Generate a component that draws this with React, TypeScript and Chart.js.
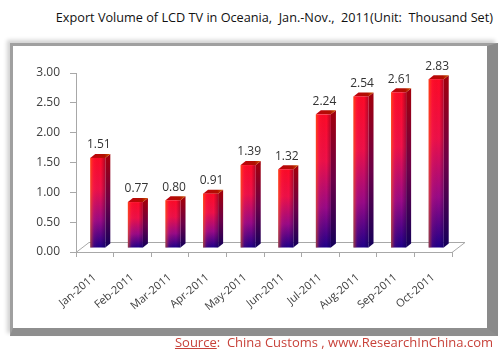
import React, { useEffect, useRef } from "react";
import { Chart, registerables } from "chart.js";
Chart.register(...registerables);

const categories = ["Jan-2011", "Feb-2011", "Mar-2011", "Apr-2011", "May-2011", "Jun-2011", "Jul-2011", "Aug-2011", "Sep-2011", "Oct-2011"];
const values = [1.51, 0.77, 0.8, 0.91, 1.39, 1.32, 2.24, 2.54, 2.61, 2.83];
const yMin = 0;
const yMax = 3;
const yStep = 0.5;
const titleText = "Export Volume of LCD TV in Oceania,  Jan.-Nov.,  2011(Unit:  Thousand Set)";
const sourceLabel = "Source";
const sourceRest = ":  China Customs , www.ResearchInChina.com";

const FONT = "'Open Sans', 'Noto Sans', sans-serif";
const OX = 3, OY = -4; // front face offset from bar slot
const EX = 5, EY = -4; // bar extrusion
const FX = 13, FY = -10; // floor depth

const bar3d = {
  id: "bar3d",
  beforeDatasetsDraw(chart: any) {
    const { ctx, chartArea } = chart;
    const { left, right, bottom } = chartArea;
    ctx.save();
    ctx.strokeStyle = "#a8a8a8";
    ctx.lineWidth = 1;
    ctx.beginPath();
    ctx.moveTo(left, bottom + 0.5);
    ctx.lineTo(left + FX, bottom + FY + 0.5);
    ctx.lineTo(right + FX, bottom + FY + 0.5);
    ctx.lineTo(right, bottom + 0.5);
    ctx.stroke();
    ctx.restore();
  },
  afterDatasetsDraw(chart: any) {
    const { ctx } = chart;
    const meta = chart.getDatasetMeta(0);
    ctx.save();
    meta.data.forEach((el: any, i: number) => {
      const p = el.getProps(["x", "y", "base", "width"], true);
      const L = p.x - p.width / 2 + OX;
      const R = p.x + p.width / 2 + OX;
      const T = p.y + OY;
      const B = p.base + OY;
      // side face
      const sg = ctx.createLinearGradient(0, T, 0, B);
      sg.addColorStop(0, "#a0000e");
      sg.addColorStop(0.5, "#6a0048");
      sg.addColorStop(1, "#14005a");
      ctx.fillStyle = sg;
      ctx.beginPath();
      ctx.moveTo(R, T);
      ctx.lineTo(R + EX, T + EY);
      ctx.lineTo(R + EX, B + EY);
      ctx.lineTo(R, B);
      ctx.closePath();
      ctx.fill();
      // top face
      const tg = ctx.createLinearGradient(L, T, R + EX, T + EY);
      tg.addColorStop(0, "#c00010");
      tg.addColorStop(0.7, "#b01000");
      tg.addColorStop(1, "#d06000");
      ctx.fillStyle = tg;
      ctx.beginPath();
      ctx.moveTo(L, T);
      ctx.lineTo(L + EX, T + EY);
      ctx.lineTo(R + EX, T + EY);
      ctx.lineTo(R, T);
      ctx.closePath();
      ctx.fill();
      // front face
      const fg = ctx.createLinearGradient(0, T, 0, B);
      fg.addColorStop(0, "#ff0a28");
      fg.addColorStop(0.35, "#f0104a");
      fg.addColorStop(0.7, "#9a0a88");
      fg.addColorStop(1, "#20008a");
      ctx.fillStyle = fg;
      ctx.fillRect(L, T, R - L, B - T);
      const hg = ctx.createLinearGradient(L, 0, R, 0);
      hg.addColorStop(0, "rgba(255,120,0,0.55)");
      hg.addColorStop(0.25, "rgba(255,60,60,0.1)");
      hg.addColorStop(0.7, "rgba(0,0,0,0)");
      hg.addColorStop(1, "rgba(0,0,40,0.3)");
      ctx.fillStyle = hg;
      ctx.fillRect(L, T, R - L, B - T);
      // label
      ctx.fillStyle = "#333333";
      ctx.font = `12px ${FONT}`;
      ctx.textAlign = "center";
      ctx.textBaseline = "bottom";
      ctx.fillText(values[i].toFixed(2), (L + R) / 2 + 1, T + EY - 3);
    });
    ctx.restore();
  },
};

export default function App() {
  const ref = useRef<HTMLCanvasElement>(null);
  useEffect(() => {
    if (!ref.current) return;
    const chart = new Chart(ref.current, {
      type: "bar",
      data: {
        labels: categories,
        datasets: [
          {
            data: values,
            backgroundColor: "rgba(0,0,0,0)",
            borderWidth: 0,
            barPercentage: 0.4,
            categoryPercentage: 1,
          },
        ],
      },
      options: {
        animation: false,
        responsive: false,
        layout: { padding: { left: 0, right: 48, top: 73, bottom: 0 } },
        plugins: { legend: { display: false }, tooltip: { enabled: false }, title: { display: false } },
        scales: {
          x: {
            offset: true,
            afterFit: (s: any) => { s.height = 104; },
            grid: { offset: true, drawOnChartArea: false, drawTicks: true, tickLength: 5, color: "#a8a8a8" },
            border: { display: true, color: "#a8a8a8" },
            ticks: { minRotation: 40, maxRotation: 40, color: "#404040", font: { family: FONT, size: 11 }, padding: 14 },
          },
          y: {
            min: yMin,
            max: yMax,
            afterFit: (s: any) => { s.width = 76; },
            grid: { drawOnChartArea: false, drawTicks: true, tickLength: 6, color: "#a8a8a8" },
            border: { display: true, color: "#a8a8a8" },
            ticks: { stepSize: yStep, color: "#404040", font: { family: FONT, size: 12 }, padding: 10, callback: (v: any) => Number(v).toFixed(2) },
          },
        },
      },
      plugins: [bar3d],
    });
    return () => chart.destroy();
  }, []);

  return (
    <div style={{ position: "fixed", left: 0, top: 0, width: 500, height: 356, background: "#fff", overflow: "hidden" }}>
      <div style={{ position: "absolute", right: 7, top: 9, fontFamily: FONT, fontSize: 12.7, color: "#111", whiteSpace: "pre", lineHeight: "16px" }}>
        {titleText}
      </div>
      <div
        style={{
          position: "absolute",
          left: 10,
          top: 43,
          width: 474,
          height: 282,
          borderStyle: "solid",
          borderColor: "#a0a0a0 #8a8a8a #8e8e8e #a0a0a0",
          borderWidth: "3px 11px 8px 3px",
          boxShadow: "-3px -3px 4px rgba(0,0,0,0.18)",
          background: "#fff",
        }}
      />
      <canvas ref={ref} width={500} height={356} style={{ position: "absolute", left: 0, top: 0, width: 500, height: 356 }} />
      <div style={{ position: "absolute", right: 7, top: 334, fontFamily: FONT, fontSize: 13, color: "#c8423a", whiteSpace: "pre", lineHeight: "16px" }}>
        <span style={{ textDecoration: "underline" }}>{sourceLabel}</span>
        {sourceRest}
      </div>
    </div>
  );
}
